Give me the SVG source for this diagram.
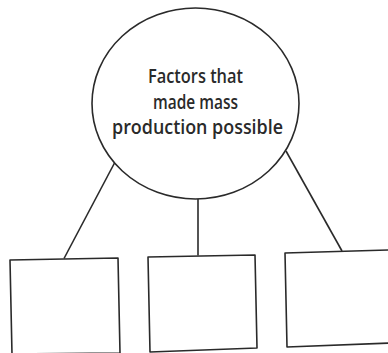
<svg xmlns="http://www.w3.org/2000/svg" width="388" height="353" viewBox="0 0 388 353">
<style>
.s{fill:none;stroke:#2a2a2a;stroke-width:1.6;stroke-linejoin:round}
.t{font-family:"Open Sans",Lato,sans-serif;font-weight:600;font-size:20px;fill:#2a2a2a;text-anchor:middle}
</style>
<rect width="388" height="353" fill="#ffffff"/>
<g id="connectors">
<line class="s" x1="114.5" y1="163" x2="64" y2="258.5"/>
<line class="s" x1="198" y1="199" x2="198" y2="255.5"/>
<line class="s" x1="286" y1="151" x2="342" y2="251"/>
</g>
<g id="center">
<ellipse class="s" cx="195.5" cy="103.5" rx="103.5" ry="95.5"/>
<text class="t" x="195.5" y="83" textLength="95" lengthAdjust="spacingAndGlyphs">Factors that</text>
<text class="t" x="195.5" y="108.5" textLength="85" lengthAdjust="spacingAndGlyphs">made mass</text>
<text class="t" x="197.5" y="134" textLength="171" lengthAdjust="spacingAndGlyphs">production possible</text>
</g>
<g id="box1"><polygon class="s" points="10,260 118,258 120,353 12,354"/></g>
<g id="box2"><polygon class="s" points="148,257 255,255 257,348 150,352"/></g>
<g id="box3"><polygon class="s" points="285,253 390,250 390,343 287,347"/></g>
</svg>
